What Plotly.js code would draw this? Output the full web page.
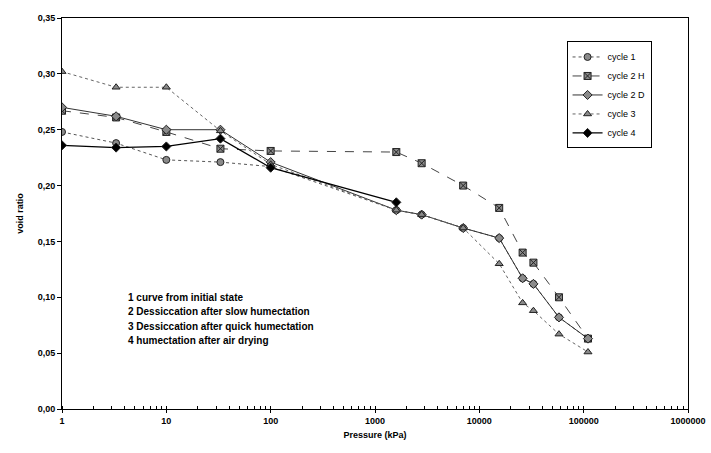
<!DOCTYPE html>
<html>
<head>
<meta charset="utf-8">
<script src="https://cdn.plot.ly/plotly-3.0.1.min.js"></script>
<style>html,body{margin:0;padding:0;background:#fff;}#chart{width:711px;height:453px;}</style>
</head>
<body>
<div id="chart"></div>
<script>
// Pressure values (kPa)
const pressureFull = [1, 3.3, 10, 33, 100, 1600, 2800, 7000, 15500, 26000, 33000, 58000, 110000];
const pressureCycle4 = [1, 3.3, 10, 33, 100, 1600];

// Void ratio series
const cycle1 = [0.248, 0.238, 0.223, 0.221, 0.217, 0.178, 0.174, 0.162, 0.153, 0.117, 0.112, 0.082, 0.063];
const cycle2H = [0.267, 0.261, 0.248, 0.233, 0.231, 0.230, 0.220, 0.200, 0.180, 0.140, 0.131, 0.100, 0.063];
const cycle2D = [0.270, 0.262, 0.250, 0.250, 0.221, 0.178, 0.174, 0.162, 0.153, 0.117, 0.112, 0.082, 0.063];
const cycle3 = [0.302, 0.288, 0.288, 0.249, 0.219, 0.178, 0.174, 0.162, 0.130, 0.095, 0.088, 0.067, 0.051];
const cycle4 = [0.236, 0.234, 0.235, 0.242, 0.216, 0.185];

const seriesNames = ["cycle 1", "cycle 2 H", "cycle 2 D", "cycle 3", "cycle 4"];

const xTickVals = [1, 10, 100, 1000, 10000, 100000, 1000000];
const xTickText = ["1", "10", "100", "1000", "10000", "100000", "1000000"];

const notes = [
  "1 curve from initial state",
  "2 Dessiccation after slow humectation",
  "3 Dessiccation after quick humectation",
  "4 humectation after air drying"
];

const mk = (sym, fill) => ({symbol: sym, size: 7, color: fill, line: {color: '#222', width: 1}});

const traces = [
  {x: pressureFull, y: cycle1, name: seriesNames[0], mode: 'lines+markers',
   line: {color: '#555', width: 1, dash: 'dot'}, marker: mk('circle', '#8a8a8a')},
  {x: pressureFull, y: cycle2H, name: seriesNames[1], mode: 'lines+markers',
   line: {color: '#444', width: 1, dash: 'dash'}, marker: mk('square-x', '#8a8a8a')},
  {x: pressureFull, y: cycle2D, name: seriesNames[2], mode: 'lines+markers',
   line: {color: '#333', width: 1, dash: 'solid'}, marker: mk('diamond', '#8a8a8a')},
  {x: pressureFull, y: cycle3, name: seriesNames[3], mode: 'lines+markers',
   line: {color: '#666', width: 1, dash: 'dot'}, marker: mk('triangle-up', '#8a8a8a')},
  {x: pressureCycle4, y: cycle4, name: seriesNames[4], mode: 'lines+markers',
   line: {color: '#000', width: 1.3, dash: 'solid'}, marker: mk('diamond', '#000')}
];

const fontFam = 'Liberation Sans, Arial, sans-serif';
const lineY = [0.286, 0.250, 0.212, 0.176];

const layout = {
  width: 711, height: 453,
  margin: {l: 62, r: 23, t: 18, b: 44},
  paper_bgcolor: '#fff', plot_bgcolor: '#fff',
  separators: ',.',
  showlegend: true,
  font: {family: fontFam, size: 9, color: '#000'},
  xaxis: {
    type: 'log', range: [0, 6],
    tickvals: xTickVals, ticktext: xTickText,
    ticks: 'outside', ticklen: 3, tickcolor: '#000',
    showline: true, linecolor: '#000', linewidth: 1, mirror: true,
    showgrid: false, zeroline: false,
    tickfont: {family: fontFam, size: 9, color: '#000', weight: 'bold'},
    minor: {ticks: 'inside', ticklen: 3, tickcolor: '#000', dtick: 'D1', showgrid: false},
    title: {text: '<b>Pressure (kPa)</b>', font: {family: fontFam, size: 9, color: '#000'}, standoff: 6}
  },
  yaxis: {
    range: [0, 0.35], dtick: 0.05, tickformat: '.2f',
    ticks: 'outside', ticklen: 4, tickcolor: '#000',
    showline: true, linecolor: '#000', linewidth: 1, mirror: true,
    showgrid: false, zeroline: false,
    tickfont: {family: fontFam, size: 9, color: '#000', weight: 'bold'},
    title: {text: '<b>void ratio</b>', font: {family: fontFam, size: 9, color: '#000'}, standoff: 12}
  },
  legend: {
    x: 0.806, y: 0.94, xanchor: 'left', yanchor: 'top',
    bgcolor: '#fff', bordercolor: '#000', borderwidth: 1,
    font: {family: fontFam, size: 9, color: '#000'},
    tracegroupgap: 5, itemwidth: 30
  },
  annotations: notes.map((t, i) => ({
    xref: 'paper', yref: 'paper', x: 0.102, y: lineY[i],
    xanchor: 'left', yanchor: 'middle', showarrow: false, align: 'left',
    text: '<b>' + t + '</b>',
    font: {family: fontFam, size: 10, color: '#000'}
  }))
};

Plotly.newPlot('chart', traces, layout, {staticPlot: true, displayModeBar: false});
</script>
</body>
</html>
